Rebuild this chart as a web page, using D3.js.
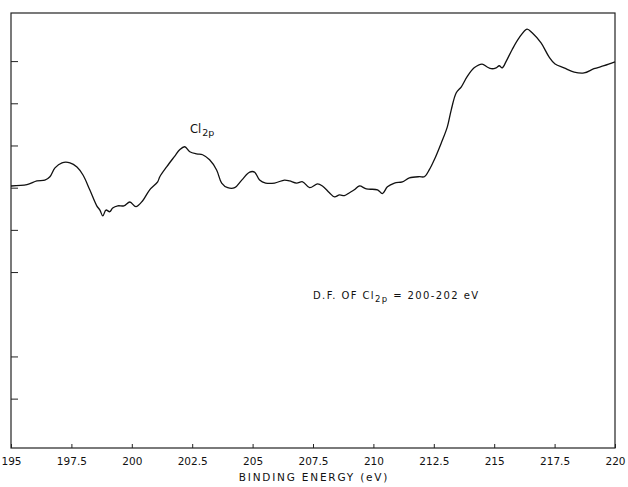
<!DOCTYPE html>
<html>
<head>
  <meta charset="utf-8">
  <title>Cl 2p spectrum</title>
  <script src="https://d3js.org/d3.v7.min.js"></script>
  <style>
    html, body { margin: 0; background: #fff; overflow: hidden; }
    text { font-family: "DejaVu Sans", sans-serif; fill: #111; }
  </style>
</head>
<body>
<svg width="628" height="487"></svg>
<script>
// binding energy (eV) and signal (arbitrary units)
const energy = [195.0, 195.66, 196.07, 196.4, 196.61, 196.82, 197.11, 197.44, 197.73, 197.98,
  198.26, 198.55, 198.68, 198.8, 198.93, 199.09, 199.21, 199.42, 199.67, 199.92,
  200.17, 200.45, 200.74, 201.07, 201.16, 201.45, 201.78, 201.98, 202.19, 202.4,
  202.69, 202.93, 203.22, 203.51, 203.72, 203.97, 204.26, 204.55, 204.88, 205.08,
  205.29, 205.54, 205.91, 206.32, 206.53, 206.82, 207.07, 207.36, 207.69, 207.89,
  208.18, 208.39, 208.6, 208.8, 209.01, 209.21, 209.42, 209.71, 210.17, 210.37,
  210.58, 210.87, 211.2, 211.49, 211.9, 212.11, 212.31, 212.52, 212.81, 213.06,
  213.22, 213.43, 213.64, 213.88, 214.17, 214.5, 214.71, 214.88, 215.08, 215.21,
  215.33, 215.5, 215.74, 216.03, 216.36, 216.57, 216.94, 217.27, 217.52, 217.89,
  218.31, 218.72, 219.13, 219.55, 220.0];
const signal = [6.04, 6.07, 6.16, 6.18, 6.26, 6.47, 6.59, 6.59, 6.49, 6.30,
  5.95, 5.57, 5.47, 5.33, 5.47, 5.43, 5.52, 5.57, 5.57, 5.66,
  5.55, 5.69, 5.95, 6.14, 6.26, 6.50, 6.75, 6.90, 6.97, 6.85,
  6.80, 6.78, 6.66, 6.42, 6.11, 6.00, 6.00, 6.18, 6.37, 6.37,
  6.18, 6.11, 6.11, 6.18, 6.16, 6.11, 6.14, 6.00, 6.09, 6.04,
  5.88, 5.78, 5.83, 5.81, 5.88, 5.95, 6.04, 5.97, 5.95, 5.86,
  6.02, 6.11, 6.14, 6.23, 6.26, 6.26, 6.42, 6.66, 7.06, 7.44,
  7.84, 8.25, 8.39, 8.63, 8.84, 8.93, 8.86, 8.82, 8.84, 8.89,
  8.84, 9.00, 9.27, 9.55, 9.76, 9.67, 9.43, 9.10, 8.93, 8.84,
  8.74, 8.72, 8.82, 8.89, 8.98];

const xTicks = [195, 197.5, 200, 202.5, 205, 207.5, 210, 212.5, 215, 217.5, 220];
const xTickLabels = ["195", "197.5", "200", "202.5", "205", "207.5", "210", "212.5", "215", "217.5", "220"];
const yTicks = [1, 2, 4, 5, 6, 7, 8, 9];

const margin = { left: 11, right: 13, top: 13, bottom: 39 };
const W = 628, H = 487;

const svg = d3.select("svg");

const x = d3.scaleLinear().domain([195, 220]).range([margin.left, W - margin.right]);
const y = d3.scaleLinear().domain([-0.17, 10.14]).range([H - margin.bottom, margin.top]);

// frame
svg.append("rect")
  .attr("x", margin.left).attr("y", margin.top)
  .attr("width", W - margin.left - margin.right)
  .attr("height", H - margin.top - margin.bottom)
  .attr("fill", "none").attr("stroke", "#222").attr("stroke-width", 1.2);

// x axis: short ticks pointing up into the plot
const xAxis = svg.append("g")
  .attr("transform", `translate(0,${H - margin.bottom})`)
  .call(d3.axisBottom(x).tickValues(xTicks).tickSizeInner(-4).tickSizeOuter(0)
    .tickPadding(10).tickFormat((d, i) => xTickLabels[i]));
xAxis.select(".domain").remove();
xAxis.selectAll("line").attr("stroke", "#222");
xAxis.selectAll("text").attr("font-size", 10.5).attr("font-family", "DejaVu Sans").attr("fill", "#111");

// y axis: unlabeled ticks pointing right
const yAxis = svg.append("g")
  .attr("transform", `translate(${margin.left},0)`)
  .call(d3.axisRight(y).tickValues(yTicks).tickSize(7).tickFormat(""));
yAxis.select(".domain").remove();
yAxis.selectAll("line").attr("stroke", "#222");

// spectrum
const pts = energy.map((e, i) => [e, signal[i]]);
const line = d3.line().x(d => x(d[0])).y(d => y(d[1])).curve(d3.curveCatmullRom.alpha(0.5));
svg.append("path")
  .datum(pts)
  .attr("d", line)
  .attr("fill", "none")
  .attr("stroke", "#111")
  .attr("stroke-width", 1.3);

// labels
const peak = svg.append("text")
  .attr("x", 190).attr("y", 133)
  .attr("font-size", 11.5);
peak.append("tspan").text("Cl");
peak.append("tspan").attr("dy", 3).attr("font-size", 9.5).attr("dx", 1).text("2p");

const note = svg.append("text")
  .attr("x", 313).attr("y", 299)
  .attr("font-size", 10)
  .attr("letter-spacing", 1.4);
note.append("tspan").text("D.F.  OF  Cl");
note.append("tspan").attr("dy", 3).attr("font-size", 8.5).text("2p");
note.append("tspan").attr("dy", -3).text(" = 200-202 eV");

svg.append("text")
  .attr("x", 314).attr("y", 481)
  .attr("text-anchor", "middle")
  .attr("font-size", 10.5)
  .attr("letter-spacing", 1.8)
  .text("BINDING ENERGY (eV)");
</script>
</body>
</html>
